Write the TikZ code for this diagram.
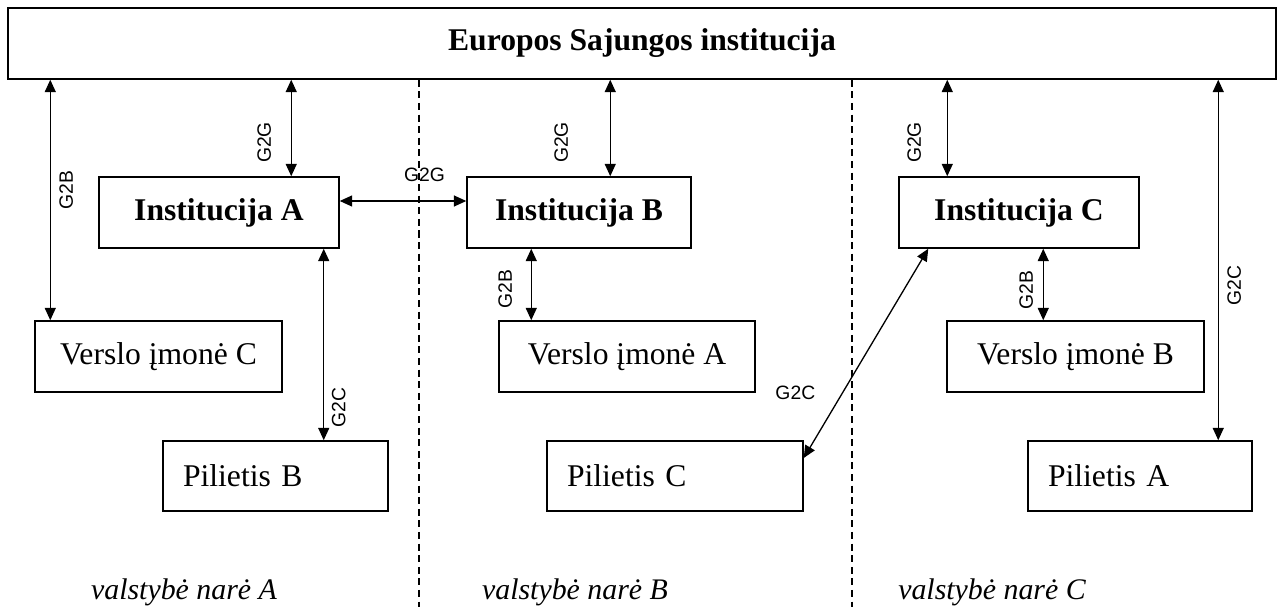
\documentclass[tikz,border=0pt]{standalone}
\usepackage{fontspec}
\setmainfont{Liberation Serif}
\setsansfont{Liberation Sans}
\usetikzlibrary{positioning, arrows.meta}

\tikzset{
  box/.style={draw, line width=0.85pt, inner sep=0pt, minimum height=1.42cm, font=\fontsize{18}{21}\selectfont},
  inst/.style={box, font=\fontsize{18}{21}\selectfont\bfseries},
  person/.style={box, align=left, inner xsep=0.4cm, minimum height=1.4cm},
  link/.style={line width=0.75pt, {Triangle[length=7pt,width=6.2pt]}-{Triangle[length=7pt,width=6.2pt]}},
  tag/.style={font=\sffamily\fontsize{11}{13}\selectfont, inner sep=0pt},
  border/.style={line width=0.65pt, dash pattern=on 4pt off 2.6pt},
  country/.style={font=\fontsize{17}{20}\selectfont\itshape},
}

\begin{document}
\begin{tikzpicture}[x=0.02cm, y=-0.02cm]
\useasboundingbox (0,0) rectangle (1280,607);

% ---- EU level ----
\node[inst, minimum width=25.36cm] (eu) at (642,43.5) {Europos Sajungos institucija};

% ---- member state borders ----
\coordinate (endAB) at (419,607);
\coordinate (endBC) at (852,607);
\draw[border] (eu.south -| endAB) -- (endAB);
\draw[border] (eu.south -| endBC) -- (endBC);

% ---- institutions ----
\node[inst, minimum width=4.8cm] (instA) at (219,212.5) {Institucija A};
\node[inst, minimum width=4.48cm] (instB) at (579,212.5) {Institucija B};
\node[inst, minimum width=4.8cm] (instC) at (1019,212.5) {Institucija C};

% ---- businesses ----
\node[box, minimum width=4.94cm] (firmC) at (158.5,356.5) {Verslo įmonė C};
\node[box, minimum width=5.12cm] (firmA) at (627,356.5) {Verslo įmonė A};
\node[box, minimum width=5.14cm] (firmB) at (1075.5,356.5) {Verslo įmonė B};

% ---- citizens ----
\node[person, text width=3.7cm] (citB) at (275.5,476) {Pilietis B};
\node[person, text width=4.32cm] (citC) at (675,476) {Pilietis C};
\node[person, text width=3.68cm] (citA) at (1140,476) {Pilietis A};

% ---- state A links ----
\coordinate (bA) at ([xshift=0.32cm]firmC.north west);
\draw[link] (bA) -- (bA |- eu.south) node[tag, pos=0.54, xshift=0.32cm, rotate=90] {G2B};
\coordinate (gA) at ([xshift=3.86cm]instA.north west);
\draw[link] (gA) -- (gA |- eu.south) node[tag, pos=0.35, xshift=-0.54cm, rotate=90] {G2G};
\draw[link] ([yshift=0.23cm]instA.east) -- ([yshift=0.23cm]instB.west) node[tag, pos=0.67, yshift=0.52cm] {G2G};
\coordinate (cA) at ([xshift=-0.32cm]instA.south east);
\draw[link] (cA) -- (cA |- citB.north) node[tag, pos=0.83, xshift=0.3cm, rotate=90] {G2C};

% ---- state B links ----
\coordinate (gB) at ([xshift=2.88cm]instB.north west);
\draw[link] (gB) -- (gB |- eu.south) node[tag, pos=0.35, xshift=-0.98cm, rotate=90] {G2G};
\coordinate (bB) at ([xshift=1.3cm]instB.south west);
\draw[link] (bB) -- (bB |- firmA.north) node[tag, pos=0.56, xshift=-0.52cm, rotate=90] {G2B};
\draw[link] ([yshift=0.36cm]citC.east) -- ([xshift=0.6cm]instC.south west) node[tag, pos=0.31, xshift=-0.94cm] {G2C};

% ---- state C links ----
\coordinate (gC) at ([xshift=0.98cm]instC.north west);
\draw[link] (gC) -- (gC |- eu.south) node[tag, pos=0.35, xshift=-0.66cm, rotate=90] {G2G};
\coordinate (bC) at ([xshift=2.9cm]instC.south west);
\draw[link] (bC) -- (bC |- firmB.north) node[tag, pos=0.58, xshift=-0.34cm, rotate=90] {G2B};
\coordinate (cC) at ([xshift=3.82cm]citA.north west);
\draw[link] (cC) -- (cC |- eu.south) node[tag, pos=0.43, xshift=0.32cm, rotate=90] {G2C};

% ---- state names ----
\node[country] (stA) at (184,592) {valstybė narė A};
\node[country] (stB) at (575,592) {valstybė narė B};
\node[country] (stC) at (992,592) {valstybė narė C};
\end{tikzpicture}
\end{document}
